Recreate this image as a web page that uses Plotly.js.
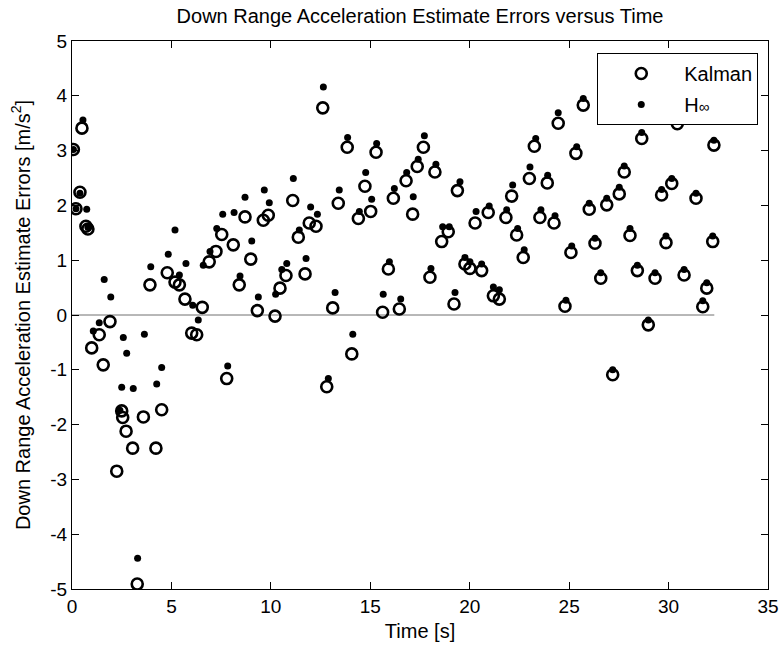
<!DOCTYPE html>
<html>
<head>
<meta charset="utf-8">
<script src="https://cdn.plot.ly/plotly-3.0.1.min.js"></script>
<style>html,body{margin:0;padding:0;background:#fff;}#chart{width:782px;height:648px;}</style>
</head>
<body>
<div id="chart"></div>
<script>
// Kalman estimate errors
const tKalman = [0.07,0.2,0.4,0.5,0.7,0.8,0.99,1.37,1.57,1.91,2.25,2.50,2.55,2.72,3.05,3.28,3.59,3.92,4.22,4.51,4.79,5.18,5.40,5.68,6.02,6.27,6.55,
  6.90,7.24,7.53,7.78,8.11,8.41,8.70,8.99,9.32,9.62,9.87,10.21,10.46,10.76,11.10,11.38,11.72,11.93,12.27,12.61,12.81,13.11,13.39,
  13.84,14.07,14.40,14.73,15.02,15.29,15.62,15.91,16.16,16.46,16.80,17.13,17.36,17.67,18.00,18.25,18.59,18.92,19.21,19.38,
  19.76,20.01,20.27,20.60,20.93,21.19,21.49,21.82,22.11,22.36,22.69,23.00,23.25,23.53,23.90,24.24,24.45,24.79,25.09,25.34,
  25.71,26.01,26.30,26.59,26.89,27.19,27.52,27.77,28.06,28.43,28.65,28.98,29.32,29.65,29.87,30.16,30.44,30.78,31.38,31.72,
  31.92,32.22,32.28];
const kalman = [3.02,1.94,2.24,3.41,1.62,1.57,-0.60,-0.36,-0.91,-0.12,-2.85,-1.75,-1.87,-2.12,-2.43,-4.91,-1.86,0.55,-2.43,-1.73,0.77,0.60,0.55,0.29,-0.33,-0.36,0.14,
  0.97,1.16,1.47,-1.16,1.28,0.55,1.79,1.02,0.08,1.73,1.82,-0.02,0.49,0.72,2.09,1.42,0.75,1.68,1.62,3.78,-1.31,0.13,2.04,
  3.06,-0.71,1.76,2.35,1.89,2.97,0.05,0.84,2.13,0.11,2.45,1.84,2.71,3.06,0.69,2.61,1.34,1.52,0.20,2.27,
  0.93,0.85,1.68,0.81,1.87,0.35,0.29,1.78,2.17,1.46,1.05,2.49,3.08,1.78,2.41,1.68,3.50,0.16,1.14,2.95,
  3.83,1.93,1.31,0.67,2.01,-1.09,2.21,2.61,1.45,0.81,3.22,-0.18,0.67,2.19,1.32,2.40,3.49,0.73,2.13,0.15,
  0.49,1.34,3.10];

// H-infinity estimate errors
const tHinf = [0.07,0.2,0.4,0.55,0.74,0.8,1.07,1.37,1.62,1.95,2.41,2.50,2.58,2.75,3.08,3.30,3.64,3.96,4.26,4.51,4.84,5.18,5.40,5.73,6.07,6.35,
  6.60,6.94,7.28,7.58,7.83,8.15,8.45,8.70,9.04,9.37,9.67,9.92,10.24,10.55,10.80,11.13,11.43,11.77,12.00,12.34,12.64,12.89,13.23,13.44,
  13.86,14.12,14.45,14.77,15.07,15.32,15.65,15.96,16.21,16.53,16.83,17.16,17.41,17.72,18.05,18.30,18.64,18.97,19.26,19.51,
  19.76,20.01,20.32,20.60,20.98,21.19,21.49,21.86,22.16,22.41,22.74,23.03,23.32,23.58,23.92,24.29,24.45,24.84,25.13,25.38,
  25.71,26.01,26.30,26.59,26.89,27.19,27.52,27.77,28.06,28.43,28.65,28.98,29.32,29.65,29.87,30.16,30.44,30.78,31.38,31.72,
  31.92,32.22,32.28];
const hinf = [3.02,1.94,2.22,3.56,1.93,1.60,-0.29,-0.14,0.65,0.33,-1.74,-1.32,-0.41,-0.70,-1.34,-4.44,-0.35,0.88,-1.26,-0.96,1.11,1.55,0.73,0.94,0.18,-0.09,
  0.91,1.16,1.58,1.84,-0.93,1.87,0.71,2.15,1.35,0.33,2.28,2.05,0.38,0.83,0.94,2.49,1.55,1.03,1.97,1.84,4.16,-1.16,0.41,2.28,
  3.24,-0.35,1.89,2.60,2.11,3.13,0.38,0.97,2.31,0.29,2.60,2.16,2.84,3.27,0.85,2.75,1.61,1.61,0.41,2.43,
  1.05,0.97,1.89,0.93,1.99,0.51,0.46,1.92,2.37,1.58,1.19,2.70,3.22,1.92,2.55,1.81,3.69,0.27,1.26,3.07,
  3.95,2.04,1.40,0.77,2.13,-1.00,2.33,2.72,1.58,0.91,3.33,-0.09,0.77,2.29,1.44,2.49,3.61,0.83,2.22,0.26,
  0.59,1.44,3.19];

// reference zero line extent
const zeroX = [0, 32.3];
const zeroY = [0, 0];

const xTicks = [0,5,10,15,20,25,30,35];
const xTickText = ['0','5','10','15','20','25','30','35'];
const yTicks = [-5,-4,-3,-2,-1,0,1,2,3,4,5];
const yTickText = ['-5','-4','-3','-2','-1','0','1','2','3','4','5'];

const FONT = 'Liberation Sans, Arial, sans-serif';

const traces = [
  {x: zeroX, y: zeroY, mode: 'lines', line: {color: '#707070', width: 1}, showlegend: false, hoverinfo: 'skip'},
  {x: tKalman, y: kalman, mode: 'markers', name: 'Kalman', legendgroup: 'k',
   marker: {symbol: 'circle-open', size: 11, color: '#000', line: {color: '#000', width: 2.6}}},
  {x: tHinf, y: hinf, mode: 'markers', name: 'H<span style="font-size:15px">∞</span>', legendgroup: 'h',
   marker: {symbol: 'circle', size: 7, color: '#000', line: {width: 0}}}
];

const axisCommon = {
  showgrid: false, zeroline: false, showline: true, linecolor: '#000', linewidth: 1,
  mirror: 'allticks', ticks: 'inside', ticklen: 7, tickcolor: '#000', tickwidth: 1,
  tickfont: {family: FONT, size: 19, color: '#000'}, tickmode: 'array'
};

const layout = {
  width: 782, height: 648,
  margin: {l: 72, r: 14, t: 41, b: 59},
  paper_bgcolor: '#fff', plot_bgcolor: '#fff',
  font: {family: FONT, size: 19, color: '#000'},
  title: {text: 'Down Range Acceleration Estimate Errors versus Time', xref: 'paper', x: 0.5, xanchor: 'center',
          yref: 'container', y: 1 - 16/648, yanchor: 'middle', font: {family: FONT, size: 20, color: '#000'}},
  xaxis: Object.assign({}, axisCommon, {range: [0, 35], tickvals: xTicks, ticktext: xTickText,
          title: {text: 'Time [s]', font: {family: FONT, size: 20, color: '#000'}, standoff: 8}}),
  yaxis: Object.assign({}, axisCommon, {range: [-5, 5], tickvals: yTicks, ticktext: yTickText,
          title: {text: 'Down Range Acceleration Estimate Errors [m/s<sup>2</sup>]', font: {family: FONT, size: 20, color: '#000'}, standoff: 14}}),
  showlegend: true,
  legend: {x: 0.986, y: 0.978, xanchor: 'right', yanchor: 'top', bgcolor: '#fff', bordercolor: '#000', borderwidth: 1,
           font: {family: FONT, size: 20, color: '#000'}, tracegroupgap: 2, itemwidth: 76, entrywidth: 140}
};

Plotly.newPlot('chart', traces, layout, {displayModeBar: false, staticPlot: true});
</script>
</body>
</html>
